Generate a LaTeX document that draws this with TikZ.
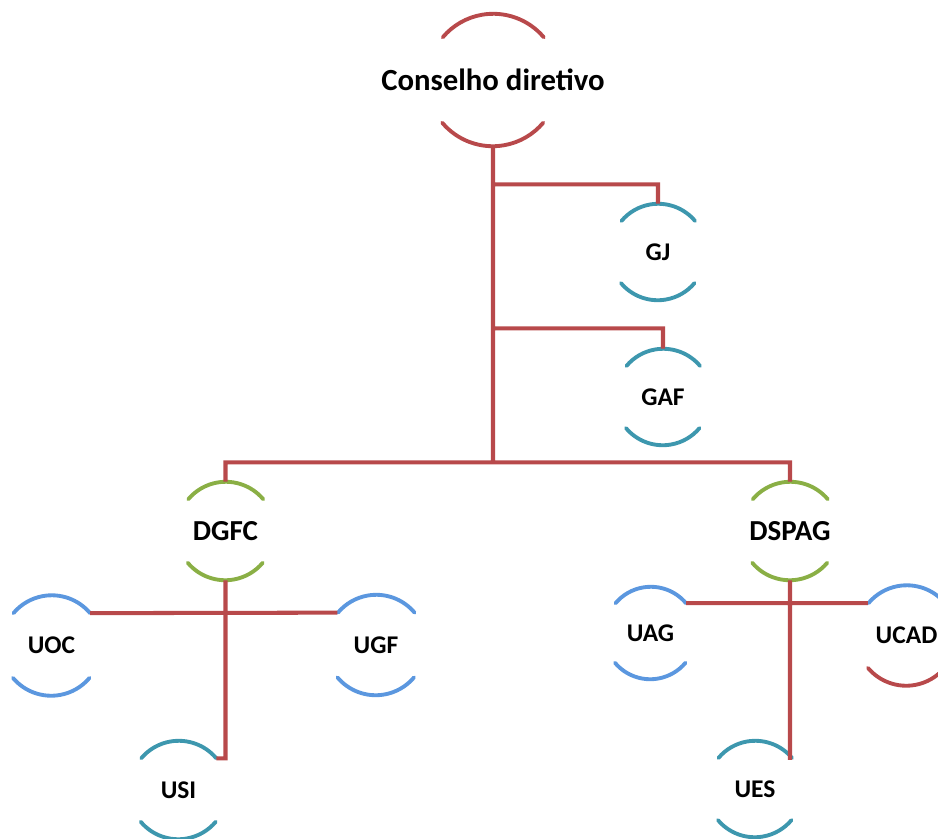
\documentclass[tikz,border=0pt]{standalone}
\usepackage{fontspec}
\setmainfont{Carlito}
\usepackage{tikz}
\usetikzlibrary{positioning}

\definecolor{linered}{HTML}{B8494B}
\definecolor{arcteal}{HTML}{3D97AE}
\definecolor{arcgreen}{HTML}{8AAF45}
\definecolor{arcblue}{HTML}{5B97DF}

\begin{document}
\begin{tikzpicture}[
		on grid,
		font=\bfseries,
		unit/.style={circle, inner sep=0pt, minimum size=#1},
		small/.style={font=\bfseries\fontsize{14.5}{16}\selectfont},
		link/.style={draw=linered, line width=2.3pt},
		rim/.style={line width=2.2pt, line cap=round}
	]
		\useasboundingbox (0,0) rectangle (18.76,-16.76);

		\node[unit=2.64cm,
			label={[font=\bfseries\fontsize{17.5}{20}\selectfont]center:Conselho diretivo}
		] (cd) at (9.86,-1.60) {};

		\node[unit=1.92cm,
			below right = 3.44cm and 3.30cm of cd,
			small
		] (gj) {GJ};

		\node[unit=1.92cm,
			below right = 2.90cm and 0.10cm of gj,
			small
		] (gaf) {GAF};

		\node[unit=1.96cm,
			below left = 9.02cm and 5.35cm of cd,
			font=\bfseries\fontsize{16.5}{18}\selectfont
		] (dgfc) {DGFC};

		\node[unit=1.96cm,
			below right = 9.02cm and 5.94cm of cd,
			font=\bfseries\fontsize{16.5}{18}\selectfont
		] (dspag) {DSPAG};

		\node[unit=2cm,
			below left = 2.29cm and 3.48cm of dgfc,
			small
		] (uoc) {UOC};

		\node[unit=2cm,
			below right = 2.28cm and 3.01cm of dgfc,
			small
		] (ugf) {UGF};

		\node[unit=1.96cm,
			below left = 5.18cm and 0.94cm of dgfc,
			small
		] (usi) {USI};

		\node[unit=1.84cm,
			below left = 2.04cm and 2.79cm of dspag,
			small
		] (uag) {UAG};

		\node[unit=2cm,
			below right = 2.09cm and 2.33cm of dspag,
			small
		] (ucad) {UCAD};

		\node[unit=1.92cm,
			below left = 5.16cm and 0.70cm of dspag,
			small
		] (ues) {UES};

		% top and bottom arcs of every unit
		\foreach \n/\r/\ct/\cb in {cd/1.32/linered/linered,
				gj/0.96/arcteal/arcteal, gaf/0.96/arcteal/arcteal,
				dgfc/0.98/arcgreen/arcgreen, dspag/0.98/arcgreen/arcgreen,
				uoc/1/arcblue/arcblue, ugf/1/arcblue/arcblue,
				usi/0.98/arcteal/arcteal, uag/0.92/arcblue/arcblue,
				ucad/1/arcblue/linered, ues/0.96/arcteal/arcteal}{
			\draw[rim, \ct] (\n.40) arc[start angle=40, end angle=140, radius=\r cm];
			\draw[rim, \cb] (\n.220) arc[start angle=220, end angle=320, radius=\r cm];
		}

		\coordinate[below = 6.32cm of cd.south] (trunk);
		\coordinate[below = 0.76cm of cd.south] (to-gj);
		\coordinate[below = 3.64cm of cd.south] (to-gaf);

		\draw[link] (cd.south) -- (trunk)
		(to-gj) -| (gj.north)
		(to-gaf) -| (gaf.north)
		(trunk) -| (dgfc.north)
		(trunk) -| (dspag.north)
		(dgfc.south) |- (usi.40)
		(uoc.40) -- (ugf.140)
		(dspag.south) |- (ues.40)
		(uag.40) -- (ucad.140);
	\end{tikzpicture}
\end{document}
